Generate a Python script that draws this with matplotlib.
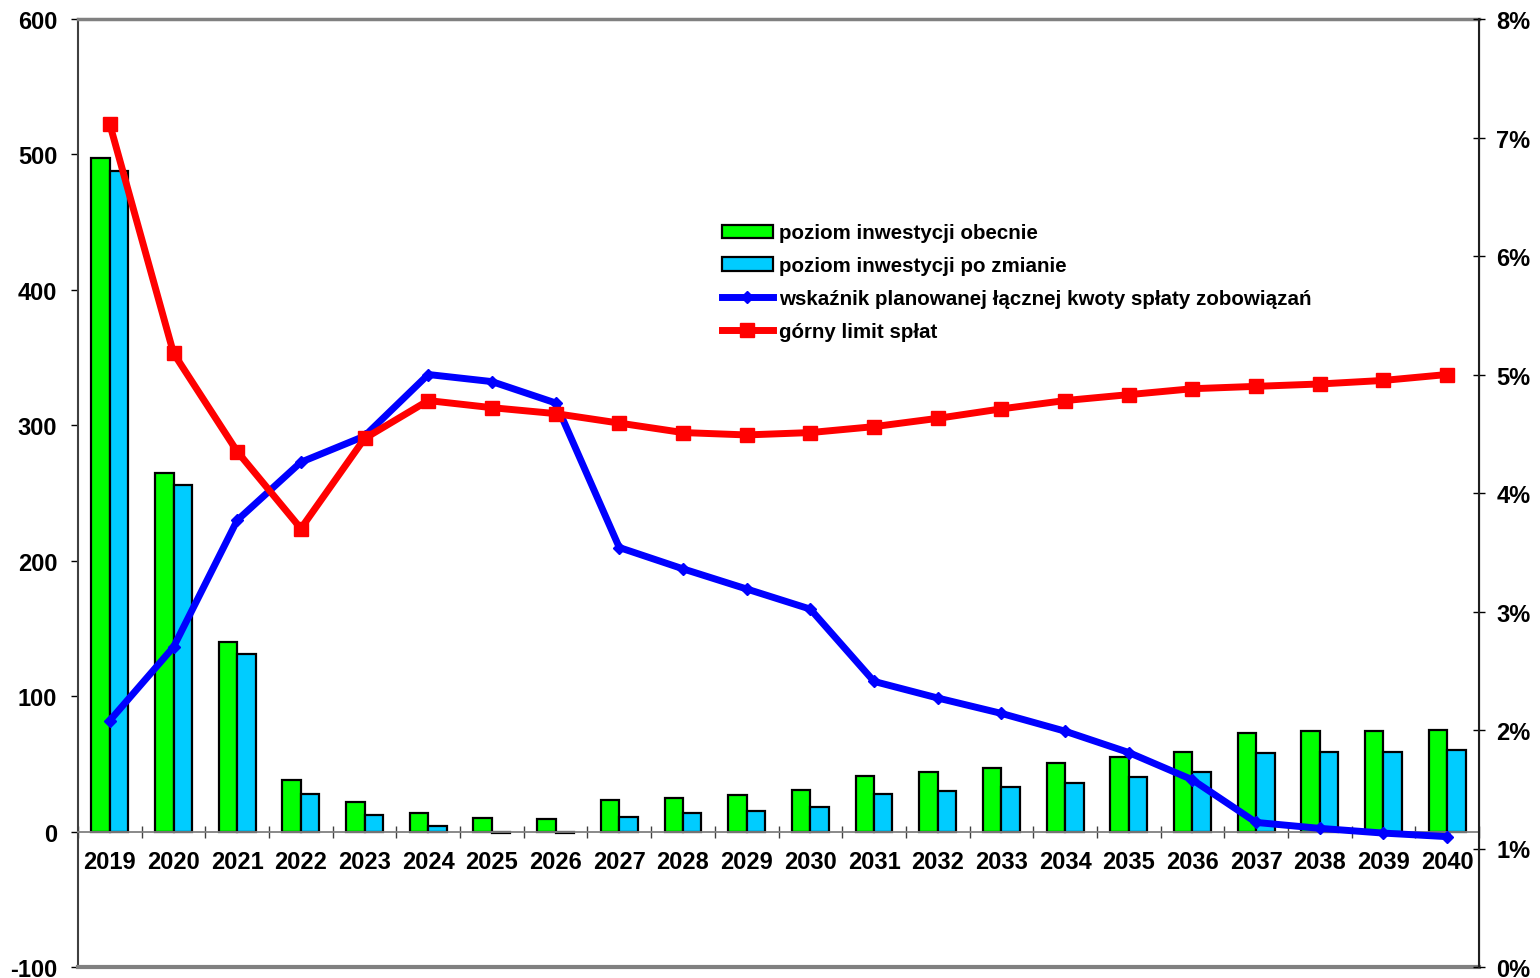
import matplotlib
matplotlib.use('Agg')
import matplotlib.pyplot as plt
import numpy as np
from matplotlib.ticker import FixedLocator, FuncFormatter

plt.rcParams['font.family'] = ['Liberation Sans', 'DejaVu Sans']
plt.rcParams['font.weight'] = 'bold'
plt.rcParams['axes.unicode_minus'] = False

years = [str(y) for y in range(2019, 2041)]
inwest_obecnie = [497, 265, 140, 38, 22, 14, 10, 9, 23, 25, 27, 31,
                  41, 44, 47, 51, 55, 59, 73, 74, 74, 75]
inwest_po_zmianie = [488, 256, 131, 28, 12, 4, -1, -1, 11, 14, 15, 18,
                     28, 30, 33, 36, 40, 44, 58, 59, 59, 60]
wskaznik = [2.08, 2.70, 3.77, 4.26, 4.48, 5.00, 4.94, 4.76, 3.54, 3.36, 3.19,
            3.02, 2.41, 2.27, 2.14, 1.99, 1.81, 1.58, 1.22, 1.17, 1.13, 1.10]
limit = [7.11, 5.18, 4.35, 3.70, 4.46, 4.78, 4.72, 4.67, 4.59, 4.51, 4.49,
         4.51, 4.56, 4.63, 4.71, 4.78, 4.83, 4.88, 4.90, 4.92, 4.95, 5.00]

labels = ['poziom inwestycji obecnie', 'poziom inwestycji po zmianie',
          'wskaźnik planowanej łącznej kwoty spłaty zobowiązań', 'górny limit spłat']

W, H, DPI = 1540, 979, 100
fig = plt.figure(figsize=(W / DPI, H / DPI), dpi=DPI)
ax = fig.add_axes([78 / W, 11 / H, (1479 - 78) / W, (968 - 20) / H])

x = np.arange(len(years))
bw = 0.29
b1 = ax.bar(x - bw / 2, inwest_obecnie, bw, color='#00FF00', edgecolor='black', linewidth=1.6, zorder=2)
b2 = ax.bar(x + bw / 2, inwest_po_zmianie, bw, color='#00CCFF', edgecolor='black', linewidth=1.6, zorder=2)

ax.set_xlim(-0.5, len(years) - 0.5)
ax.set_ylim(-100, 600)
ax.set_yticks(range(-100, 601, 100))
ax.tick_params(axis='y', direction='out', length=5, width=1, pad=10, labelsize=17)

# category axis sits on the zero line
ax.spines['bottom'].set_position(('data', 0))
ax.spines['bottom'].set_color('#808080')
ax.spines['bottom'].set_linewidth(1.3)
ax.xaxis.set_major_locator(FixedLocator(np.arange(-0.5, len(years), 1.0)))
ax.xaxis.set_minor_locator(FixedLocator(x))
ax.xaxis.set_major_formatter(FuncFormatter(lambda v, p: ''))
ax.set_xticks(x, years, minor=True)
ax.tick_params(axis='x', which='major', direction='inout', length=9, width=1, color='#404040')
ax.tick_params(axis='x', which='minor', length=0, pad=13, labelsize=17)
ax.axhline(-100, color='#808080', linewidth=3, zorder=5, clip_on=False)
ax.spines['top'].set_color('#808080')
ax.spines['top'].set_linewidth(2.5)
ax.spines['left'].set_color('#404040')
ax.spines['left'].set_linewidth(1.5)

ax2 = ax.twinx()
l1, = ax2.plot(x, wskaznik, color='#0000FF', linewidth=5, marker='D', markersize=6, zorder=4)
l2, = ax2.plot(x, limit, color='#FF0000', linewidth=5, marker='s', markersize=10, zorder=4)
ax2.set_ylim(0, 8)
ax2.set_yticks(range(0, 9))
ax2.set_yticklabels([f'{v}%' for v in range(0, 9)])
ax2.tick_params(axis='y', direction='inout', length=9, width=1, pad=8, labelsize=17)
ax2.spines['right'].set_color('#202020')
ax2.spines['right'].set_linewidth(1.5)
for s in ['top', 'bottom', 'left']:
    ax2.spines[s].set_visible(False)

leg = ax2.legend([b1, b2, l1, l2], labels, loc='upper left',
                 bbox_to_anchor=(712 / W, 1 - 214 / H), bbox_transform=fig.transFigure,
                 frameon=False, borderpad=0, handlelength=2.45, handleheight=0.6,
                 handletextpad=0.3, labelspacing=0.68, prop={'size': 14.8, 'weight': 'bold'})

fig.savefig('out.png', dpi=DPI)
